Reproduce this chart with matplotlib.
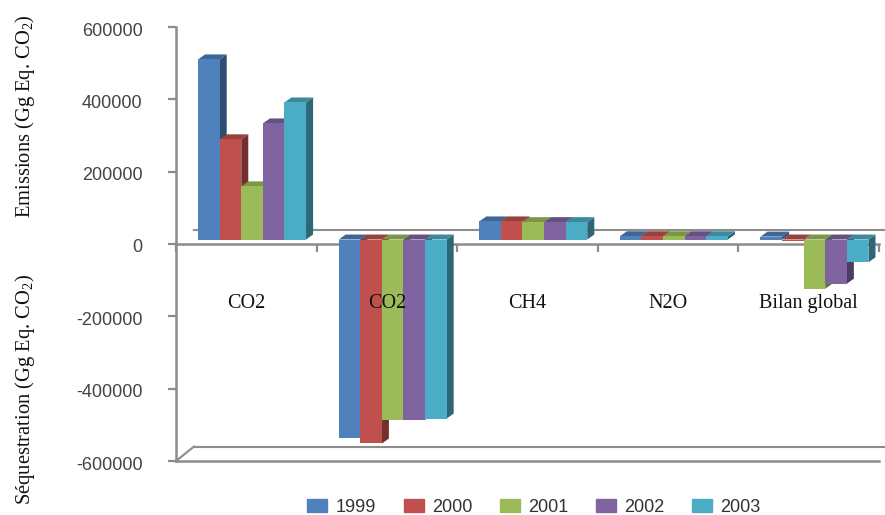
import matplotlib
matplotlib.use("Agg")
import matplotlib.pyplot as plt
from matplotlib.patches import Patch
from matplotlib.transforms import Affine2D

plt.rcParams["font.family"] = "Liberation Serif"
plt.rcParams["mathtext.fontset"] = "custom"
plt.rcParams["mathtext.rm"] = "Liberation Serif"
plt.rcParams["mathtext.default"] = "rm"

# Values
categories = ["CO2", "CO2", "CH4", "N2O", "Bilan global"]
years = ["1999", "2000", "2001", "2002", "2003"]
v1999 = [498000, -548000, 50000, 9000, 8000]
v2000 = [277000, -564000, 50000, 9000, -3000]
v2001 = [147000, -500000, 48000, 9000, -136000]
v2002 = [321000, -499000, 48000, 9000, -122000]
v2003 = [379000, -495000, 48000, 9000, -63000]
series = [v1999, v2000, v2001, v2002, v2003]
yticks = [-600000, -400000, -200000, 0, 200000, 400000, 600000]
yticklabels = ["-600000", "-400000", "-200000", "0", "200000", "400000", "600000"]

front = ["#4F81BD", "#C0504D", "#9BBB59", "#8064A2", "#4BACC6"]
top = ["#3E6797", "#99403D", "#7C9647", "#665082", "#3C899E"]
side = ["#2F4D71", "#73302E", "#5D7035", "#4C3C61", "#2D6777"]
gray = "#8C8C8C"

# 3D look: bar depth and where the bars start, in data units
bar_w = 0.1536
group_start = 0.157
dx = 0.05
dy = 13800
base = 12400
wall_dx = 0.128
wall_dy = 40000

fig = plt.figure(figsize=(8.85, 5.15), dpi=100)
ax = fig.add_axes([176 / 885, 1 - 461 / 515, 703 / 885, 434 / 515])
ax.set_xlim(0, 5)
ax.set_ylim(-600000, 600000)
ax.set_axisbelow(True)

# back wall and floor
ax.plot([wall_dx, 5.04], [wall_dy, wall_dy], color=gray, lw=1.5, clip_on=False, zorder=1)
ax.plot([wall_dx, 5.04], [-600000 + wall_dy] * 2, color=gray, lw=1.5, clip_on=False, zorder=1)
ax.plot([0, wall_dx], [-600000, -600000 + wall_dy], color=gray, lw=1.5, clip_on=False, zorder=1)
ax.plot([0, 5.0], [-600000, -600000], color=gray, lw=1.8, clip_on=False, zorder=1)

for g in range(len(categories)):
    for s in range(len(series)):
        v = series[s][g]
        x0 = g + group_start + s * bar_w
        x1 = x0 + bar_w
        y0 = base
        y1 = base + v
        z = 3 + g * 10 + s
        hi = max(y0, y1)
        ax.fill([x1, x1 + dx, x1 + dx, x1], [y0, y0 + dy, y1 + dy, y1], color=side[s], lw=0, zorder=z)
        ax.fill([x0, x1, x1 + dx, x0 + dx], [hi, hi, hi + dy, hi + dy], color=top[s], lw=0, zorder=z)
        ax.bar(x0, v, bar_w, bottom=base, align="edge", color=front[s], zorder=z)

for name in ["top", "right"]:
    ax.spines[name].set_visible(False)
ax.spines["bottom"].set_position(("data", 0))
for name in ["left", "bottom"]:
    ax.spines[name].set_color(gray)
    ax.spines[name].set_linewidth(1.8)

ax.set_yticks(yticks)
ax.set_yticklabels(yticklabels, family="Liberation Sans", fontsize=13, color="#444444")
ax.tick_params(axis="y", length=6, width=1.6, color=gray, pad=18)
for label in ax.get_yticklabels():
    label.set_transform(label.get_transform() + Affine2D().translate(0, -2))
ax.set_xticks(range(6))
ax.set_xticklabels([])
ax.tick_params(axis="x", which="major", direction="out", length=6, width=1.6, color=gray)

# category names sit over the bars, so they are plain text with a high zorder
for i, name in enumerate(categories):
    ax.text(i + 0.5, -165000, name, ha="center", va="center", fontsize=14.5,
            color="#111111", zorder=100)

fig.text(25 / 885, 1 - 116 / 515, "Emissions (Gg Eq. CO$_2$)", rotation=90,
         ha="center", va="center", fontsize=14.8, color="#111111")
fig.text(25 / 885, 1 - 390 / 515, "Séquestration (Gg Eq. CO$_2$)", rotation=90,
         ha="center", va="center", fontsize=14.8, color="#111111")

handles = [Patch(color=c) for c in front]
fig.legend(handles, years, loc="center", bbox_to_anchor=(534 / 885, 1 - 507.5 / 515),
           ncol=5, frameon=False, handlelength=1.1, handleheight=0.72,
           handletextpad=0.45, columnspacing=1.55,
           prop={"family": "Liberation Sans", "size": 13}, labelcolor="#333333")

fig.savefig("out.png", dpi=100)
